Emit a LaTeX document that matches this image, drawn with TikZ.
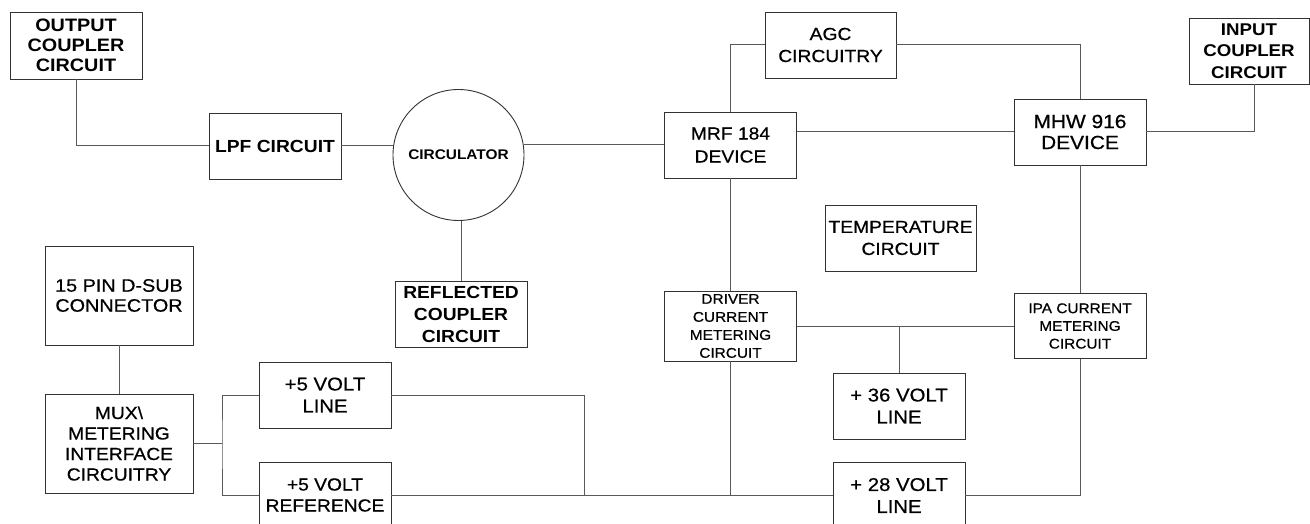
\documentclass[tikz,border=0pt]{standalone}
\usepackage{fontspec}
\setmainfont{Liberation Sans}[FakeStretch=1.1]
\newfontfamily\medfont{Liberation Sans}[FakeStretch=1.1,FakeBold=0.6]
\begin{document}
\begin{tikzpicture}[x=1pt,y=-1pt,
  box/.style={draw=black!80, line width=0.9pt, inner sep=0pt, align=center,
              minimum width=132pt, minimum height=66pt},
  conn/.style={draw=black!65, line width=1pt},
  fb/.style 2 args={font=\fontsize{#1}{#2}\selectfont\bfseries},
  fr/.style 2 args={font=\fontsize{#1}{#2}\selectfont\medfont}]
\clip (0,0) rectangle (1310,524);
\useasboundingbox (0,0) rectangle (1310,524);
\fill[white] (0,0) rectangle (1310,524);

% nodes
\node[box, fb={18}{20}, minimum height=67] (outc) at (76,45.5) {OUTPUT\\COUPLER\\CIRCUIT};
\node[box, fb={17.5}{21}] (lpf) at (275,146) {LPF CIRCUIT};
\node[circle, draw=black!80, line width=0.9pt, minimum size=131pt, inner sep=0pt, fb={14}{16}] (circ) at (458.5,155) {CIRCULATOR};
\node[box, fr={17.5}{23}] (mrf) at (730.5,145) {MRF 184\\DEVICE};
\node[box, fr={17.5}{22}, minimum width=131] (agc) at (830.5,45) {AGC\\CIRCUITRY};
\node[box, fr={19}{21}] (mhw) at (1080,132) {MHW 916\\DEVICE};
\node[box, fb={17}{21.5}, minimum width=120] (inc) at (1249,51) {INPUT\\COUPLER\\CIRCUIT};
\node[box, fr={17.5}{22}, minimum width=151] (temp) at (900.5,238) {TEMPERATURE\\CIRCUIT};
\node[box, fr={18}{20}, minimum width=148, minimum height=99] (pin) at (119,295.5) {15 PIN D-SUB\\CONNECTOR};
\node[box, fr={17.5}{20.5}, minimum width=148, minimum height=99] (mux) at (119,443.5) {MUX\textbackslash\\METERING\\INTERFACE\\CIRCUITRY};
\node[box, fr={18.5}{22}] (p5l) at (325,395) {+5 VOLT\\LINE};
\node[box, fr={17.5}{21}] (p5r) at (325,495) {+5 VOLT\\REFERENCE};
\node[box, fb={17.5}{22}] (refl) at (461,314) {REFLECTED\\COUPLER\\CIRCUIT};
\node[box, fr={14}{18}, minimum height=70] (drv) at (730.5,326) {DRIVER\\CURRENT\\METERING\\CIRCUIT};
\node[box, fr={14}{17.7}, minimum height=65] (ipa) at (1080,326) {IPA CURRENT\\METERING\\CIRCUIT};
\node[box, fr={18.5}{22}] (p36) at (899,406) {+ 36 VOLT\\LINE};
\node[box, fr={18.5}{22}] (p28) at (899,495.5) {+ 28 VOLT\\LINE};

% helper coordinates
\coordinate (jm) at (222,0);
\coordinate (j5) at (584,0);

% connectors
\draw[conn] (outc.south) |- (lpf.west);
\draw[conn] (lpf.east) -- (lpf.east -| circ.west);
\draw[conn] (circ.east |- mrf.west) -- (mrf.west);
\draw[conn] (refl.north) -- (refl.north |- circ.south);
\draw[conn] (mrf.north) |- (agc.west);
\draw[conn] (agc.east) -| (mhw.north);
\draw[conn] (mhw.west) -- (mhw.west -| mrf.east);
\draw[conn] (mhw.east) -| ([xshift=5pt]inc.south);
\draw[conn] (mrf.south) -- (drv.north);
\draw[conn] (mhw.south) -- (ipa.north);
\draw[conn] (drv.east) -- (ipa.west);
\coordinate (j36) at (p36.north |- drv.east);
\draw[conn] (j36) -- (p36.north);
\draw[conn] (pin.south) -- (mux.north);
\draw[conn] (mux.east) -- (mux.east -| jm);
\draw[conn] (p5l.west) -| (jm |- mux.east) |- (p5r.west);
\draw[conn] (p5l.east) -| (j5 |- p5r.east);
\draw[conn] (p5r.east) -- (p5r.east -| p28.west);
\draw[conn] (drv.south) -- (drv.south |- p5r.east);
\draw[conn] (p28.east) -| (ipa.south);
\end{tikzpicture}
\end{document}
